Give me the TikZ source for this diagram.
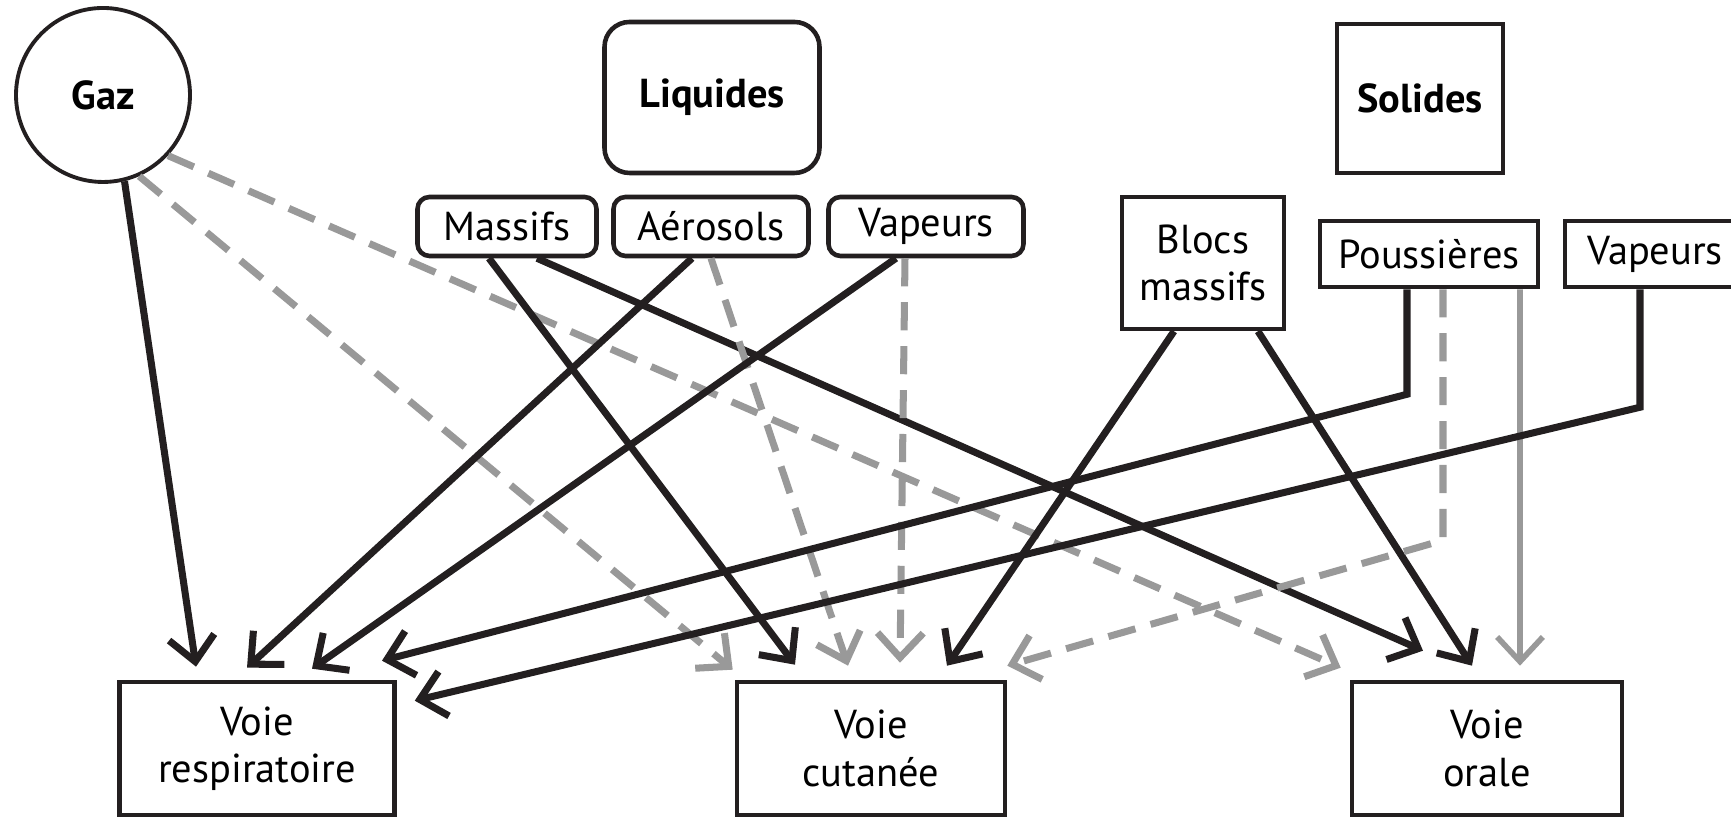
\documentclass[tikz,border=0pt]{standalone}
\usepackage{fontspec}
\setmainfont{PT Sans}
\usetikzlibrary{arrows.meta,positioning}
\definecolor{inkblack}{HTML}{231F20}
\definecolor{arrowgray}{gray}{0.6}

\begin{document}
\begin{tikzpicture}[
  etat/.style={draw=inkblack, line width=1.3pt, align=center, inner sep=0pt,
    font=\fontsize{11.5}{13.5}\selectfont\bfseries},
  sousetat/.style={draw=inkblack, line width=1.3pt, align=center, inner sep=0pt,
    minimum height=0.59cm, font=\fontsize{11.5}{13.5}\selectfont},
  voie/.style={draw=inkblack, line width=1.3pt, align=center, inner sep=0pt,
    minimum width=2.72cm, minimum height=1.33cm, font=\fontsize{11.5}{13.5}\selectfont},
  noir/.style={draw=inkblack, line width=2pt, -{Straight Barb[length=7pt,width=13pt]}},
  gris/.style={draw=arrowgray, line width=2pt, -{Straight Barb[length=7pt,width=13pt]}},
  tirets/.style={gris, dash pattern=on 8pt off 4.5pt},
]
\useasboundingbox (0,0) rectangle (17.31,8.18);

% States of matter
\node[etat, circle, minimum size=1.74cm, line width=1.1pt] (gaz) at (1.03,7.23) {Gaz};
\node[etat, rounded corners=0.25cm, minimum width=2.15cm, minimum height=1.51cm] (liquides) at (7.12,7.205) {Liquides};
\node[etat, minimum width=1.66cm, minimum height=1.49cm] (solides) at (14.20,7.195) {Solides};

% Liquid forms
\node[sousetat, rounded corners=0.12cm, minimum width=1.79cm] (massifs) at (5.07,5.915) {Massifs};
\node[sousetat, rounded corners=0.12cm, minimum width=1.95cm] (aerosols) at (7.11,5.915) {Aérosols};
\node[sousetat, rounded corners=0.12cm, minimum width=1.95cm] (vapliq) at (9.26,5.915) {Vapeurs};

% Solid forms
\node[sousetat, minimum width=1.62cm, minimum height=1.32cm] (blocs) at (12.03,5.55) {Blocs\\massifs};
\node[sousetat, minimum width=2.18cm, minimum height=0.66cm] (poussieres) at (14.29,5.64) {Poussières};
\node[sousetat, minimum width=1.80cm, minimum height=0.66cm] (vapsol) at (16.55,5.64) {Vapeurs};

% Routes of exposure
\node[voie, minimum width=2.75cm] (resp) at (2.57,0.695) {Voie\\respiratoire};
\node[voie, minimum width=2.68cm] (cutanee) at (8.71,0.695) {Voie\\cutanée};
\node[voie, minimum width=2.70cm] (orale) at (14.87,0.695) {Voie\\orale};

% Arrows from Gaz
\draw[noir] (gaz.-76) -- ([xshift=-0.61cm,yshift=0.13cm]resp.north);
\draw[tirets] (gaz.-66) -- ([xshift=-0.02cm,yshift=0.10cm]cutanee.north west);
\draw[tirets] (gaz.-43) -- ([xshift=-0.09cm,yshift=0.12cm]orale.north west);

% Arrows from the liquids
\draw[noir] ([xshift=-0.18cm]massifs.south) -- ([xshift=-0.76cm,yshift=0.15cm]cutanee.north);
\draw[noir] ([xshift=0.30cm]massifs.south) -- ([xshift=-0.64cm,yshift=0.29cm]orale.north);
\draw[noir] ([xshift=-0.19cm]aerosols.south) -- ([xshift=-0.10cm,yshift=0.12cm]resp.north);
\draw[tirets] ([xshift=0.0cm]aerosols.south) -- ([xshift=-0.23cm,yshift=0.14cm]cutanee.north);
\draw[noir] ([xshift=-0.30cm]vapliq.south) -- ([xshift=0.55cm,yshift=0.11cm]resp.north);
\draw[tirets] ([xshift=-0.21cm]vapliq.south) -- ([xshift=0.29cm,yshift=0.17cm]cutanee.north);

% Arrows from the solids
\draw[noir] ([xshift=-0.29cm]blocs.south) -- ([xshift=0.76cm,yshift=0.14cm]cutanee.north);
\draw[noir] ([xshift=0.55cm]blocs.south) -- ([xshift=-0.15cm,yshift=0.14cm]orale.north);
\draw[noir] ([xshift=-0.22cm]poussieres.south) -- ++(0,-1.05) -- ([xshift=1.25cm,yshift=0.19cm]resp.north);
\draw[tirets] ([xshift=0.14cm]poussieres.south) -- ++(0,-2.51) -- ([yshift=0.14cm]cutanee.north east);
\draw[gris, line width=1.6pt] ([xshift=0.91cm]poussieres.south) -- ([xshift=0.33cm,yshift=0.14cm]orale.north);
\draw[noir] ([xshift=-0.15cm]vapsol.south) -- ++(0,-1.18) -- ([xshift=0.18cm,yshift=-0.21cm]resp.north east);
\end{tikzpicture}
\end{document}
